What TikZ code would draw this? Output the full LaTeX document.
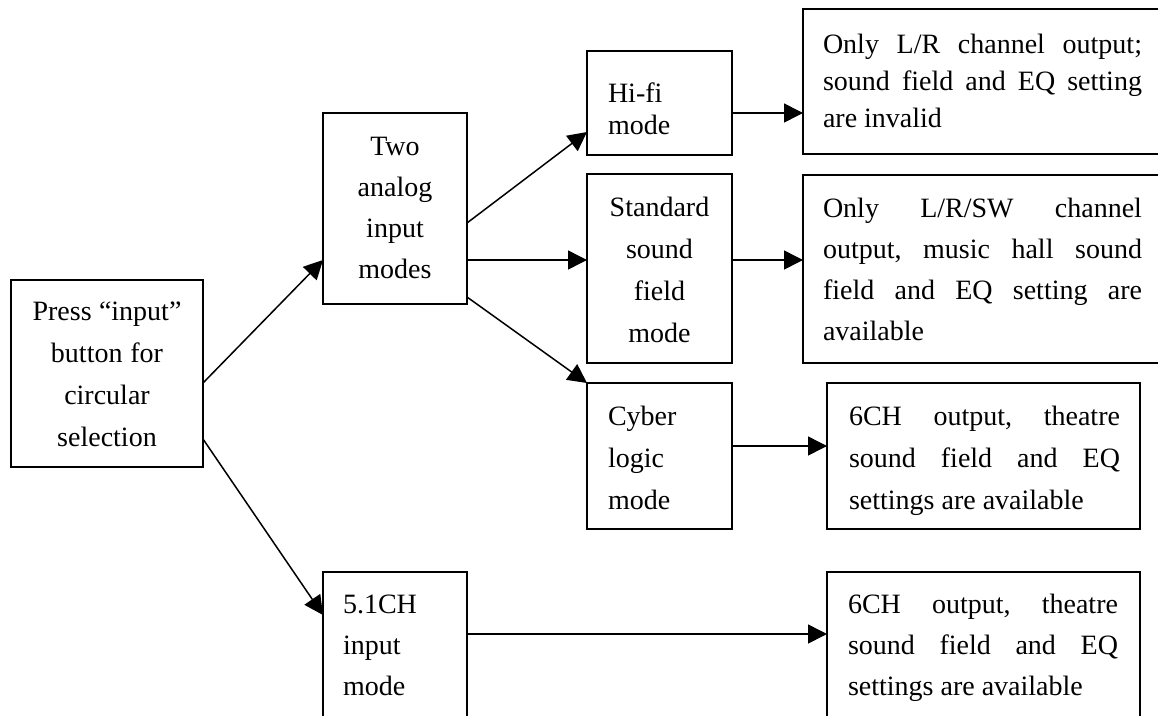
\documentclass[tikz,border=0pt]{standalone}
\usepackage{fontspec}
\setmainfont{Liberation Serif}
\usetikzlibrary{arrows.meta}
\tikzset{
  box/.style={draw, line width=1.5pt, inner sep=0pt, outer sep=0pt, anchor=north west},
  txt/.style={inner sep=0pt, outer sep=0pt, anchor=base west, align=left},
  ctxt/.style={inner sep=0pt, outer sep=0pt, anchor=base, align=center},
  arr/.style={line width=1.5pt, -{Triangle[length=19pt,width=19pt]}},
}
\newcommand{\rsp}{\frenchspacing\spaceskip=0.25em plus 0.05em\xspaceskip=0.25em\relax}
\newcommand{\jline}[2]{\makebox[#1][s]{\spaceskip=0.25em plus 1fil\xspaceskip=0.25em plus 1fil\relax #2}}
\begin{document}
\begin{tikzpicture}[x=1pt, y=-1pt]
\useasboundingbox (0,0) rectangle (1158,715);
\clip (0,0) rectangle (1158,715);

% boxes
\node[box, minimum width=192pt, minimum height=187pt] (press) at (11,280) {};
\node[box, minimum width=144pt, minimum height=191pt] (two) at (323,113) {};
\node[box, minimum width=145pt, minimum height=104pt] (hifi) at (587,51) {};
\node[box, minimum width=370pt, minimum height=145pt] (tr) at (803,9) {};
\node[box, minimum width=145pt, minimum height=189pt] (std) at (587,174) {};
\node[box, minimum width=370pt, minimum height=188pt] (r2) at (803,175) {};
\node[box, minimum width=145pt, minimum height=146pt] (cyber) at (587,383) {};
\node[box, minimum width=313pt, minimum height=146pt] (cr) at (827,383) {};
\node[box, minimum width=144pt, minimum height=200pt] (ch51) at (323,572) {};
\node[box, minimum width=313pt, minimum height=200pt] (br) at (827,572) {};

% texts
\node[ctxt, text width=180pt, font=\fontsize{28}{42}\selectfont] (tpress) at (107,320)
  {\rsp Press “input”\\button for\\circular\\selection};
\node[ctxt, text width=140pt, font=\fontsize{28}{41}\selectfont] (ttwo) at (395,155)
  {\rsp Two\\analog\\input\\modes};
\node[txt, text width=120pt, font=\fontsize{28}{32}\selectfont] (thifi) at (608,102)
  {\rsp Hi-fi\\mode};
\node[txt, text width=319pt, font=\fontsize{28}{37}\selectfont] (ttr) at (823,53)
  {\rsp\jline{319pt}{Only L/R channel output;}\\
   \jline{319pt}{sound field and EQ setting}\\
   are invalid};
\node[ctxt, text width=140pt, font=\fontsize{28}{42}\selectfont] (tstd) at (659.5,216)
  {\rsp Standard\\sound\\field\\mode};
\node[txt, text width=319pt, font=\fontsize{28}{41}\selectfont] (tr2) at (823,217)
  {\rsp\jline{319pt}{Only L/R/SW channel}\\
   \jline{319pt}{output, music hall sound}\\
   \jline{319pt}{field and EQ setting are}\\
   available};
\node[txt, text width=120pt, font=\fontsize{28}{42}\selectfont] (tcyber) at (608,425)
  {\rsp Cyber\\logic\\mode};
\node[txt, text width=271pt, font=\fontsize{28}{42}\selectfont] (tcr) at (849,425)
  {\rsp\jline{271pt}{6CH output, theatre}\\
   \jline{271pt}{sound field and EQ}\\
   settings are available};
\node[txt, text width=120pt, font=\fontsize{28}{41}\selectfont] (tch51) at (343,613)
  {\rsp 5.1CH\\input\\mode};
\node[txt, text width=270pt, font=\fontsize{28}{41}\selectfont] (tbr) at (848,613)
  {\rsp\jline{270pt}{6CH output, theatre}\\
   \jline{270pt}{sound field and EQ}\\
   settings are available};

% connectors
\draw[arr] (press.east |- 0,383) -- (two.west |- 0,260);
\draw[arr] (press.east |- 0,439) -- (ch51.west |- 0,615);
\draw[arr] (two.east |- 0,223) -- (hifi.west |- 0,132);
\draw[arr] (two.east |- 0,260) -- (std.west |- 0,260);
\draw[arr] (two.east |- 0,297) -- (cyber.north west);
\draw[arr] (hifi.east |- 0,113) -- (tr.west |- 0,113);
\draw[arr] (std.east |- 0,260) -- (r2.west |- 0,260);
\draw[arr] (cyber.east |- 0,446) -- (cr.west |- 0,446);
\draw[arr] (ch51.east |- 0,634) -- (br.west |- 0,634);
\end{tikzpicture}
\end{document}
